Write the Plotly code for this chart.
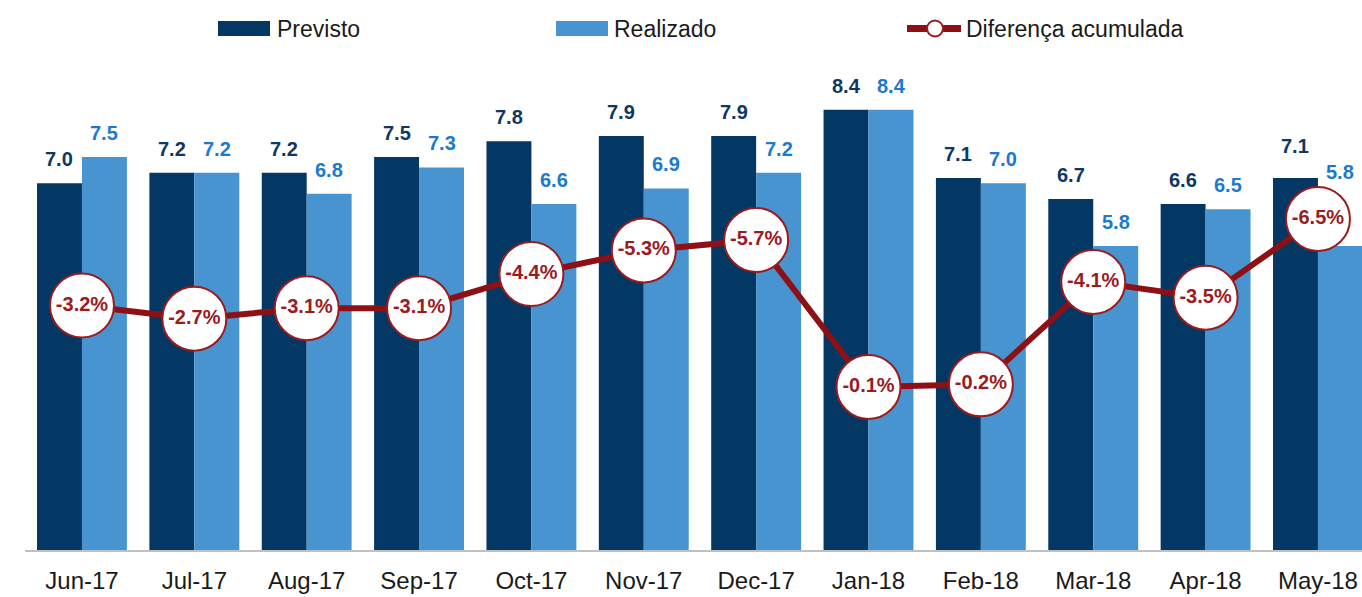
import plotly.graph_objects as go

categories = ["Jun-17", "Jul-17", "Aug-17", "Sep-17", "Oct-17", "Nov-17",
              "Dec-17", "Jan-18", "Feb-18", "Mar-18", "Apr-18", "May-18"]
previsto = [7.0, 7.2, 7.2, 7.5, 7.8, 7.9, 7.9, 8.4, 7.1, 6.7, 6.6, 7.1]
realizado = [7.5, 7.2, 6.8, 7.3, 6.6, 6.9, 7.2, 8.4, 7.0, 5.8, 6.5, 5.8]
diferenca = [-3.2, -2.7, -3.1, -3.1, -4.4, -5.3, -5.7, -0.1, -0.2, -4.1, -3.5, -6.5]

# label vertical offsets (px) - styling only
prev_shift = [24] * 11 + [32]
real_shift = [24] * 11 + [74]

DARK = "#033865"
LIGHT = "#4794d0"
RED = "#8e1015"
FONT = "Liberation Sans, Arial, sans-serif"

W, H = 1362, 597
ML, MR, MT, MB = 25, 0, 60, 47
PW, PH = W - ML - MR, H - MT - MB


def px(x):
    return (x - ML) / PW


def py(y):
    return (H - MB - y) / PH


fig = go.Figure()
fig.add_trace(go.Bar(x=categories, y=previsto, name="Previsto",
                     marker=dict(color=DARK, line=dict(width=0))))
fig.add_trace(go.Bar(x=categories, y=realizado, name="Realizado",
                     marker=dict(color=LIGHT, line=dict(width=0))))
fig.add_trace(go.Scatter(
    x=categories, y=diferenca, name="Diferença acumulada", yaxis="y2",
    mode="lines+markers+text",
    line=dict(color=RED, width=6),
    marker=dict(size=64, color="white", line=dict(color="#9b1b1e", width=2)),
    text=[f"{v:.1f}%" for v in diferenca],
    texttemplate="<b>%{text}</b>",
    textposition="middle center",
    textfont=dict(family=FONT, size=20, color="#9b1b1e"),
    cliponaxis=False,
))

annotations = []
for i, c in enumerate(categories):
    annotations.append(dict(x=c, y=previsto[i], xref="x", yref="y",
                            text=f"<b>{previsto[i]:.1f}</b>", showarrow=False,
                            xshift=-22.5, yshift=prev_shift[i], yanchor="middle",
                            font=dict(family=FONT, size=20, color="#0d3864")))
    annotations.append(dict(x=c, y=realizado[i], xref="x", yref="y",
                            text=f"<b>{realizado[i]:.1f}</b>", showarrow=False,
                            xshift=22.5, yshift=real_shift[i], yanchor="middle",
                            font=dict(family=FONT, size=20, color="#1b7ad0")))

# custom legend
leg_y = 28.5
shapes = [
    dict(type="rect", xref="paper", yref="paper", x0=px(218), x1=px(270),
         y0=py(36), y1=py(21), fillcolor=DARK, line=dict(width=0)),
    dict(type="rect", xref="paper", yref="paper", x0=px(556), x1=px(608),
         y0=py(36), y1=py(21), fillcolor=LIGHT, line=dict(width=0)),
    dict(type="line", xref="paper", yref="paper", x0=px(907), x1=px(961),
         y0=py(leg_y), y1=py(leg_y), line=dict(color=RED, width=7)),
    dict(type="circle", xref="paper", yref="paper", x0=px(927), x1=px(943),
         y0=py(leg_y + 8), y1=py(leg_y - 8), fillcolor="white",
         line=dict(color="#9b1b1e", width=2)),
]
for xx, label in [(275, "Previsto"), (612, "Realizado"), (964, "Diferença acumulada")]:
    annotations.append(dict(x=px(xx), y=py(leg_y), xref="paper", yref="paper",
                            text=label, showarrow=False, xanchor="left",
                            yanchor="middle",
                            font=dict(family=FONT, size=23, color="#1a1a1a")))

fig.update_layout(
    width=W, height=H,
    margin=dict(l=ML, r=MR, t=MT, b=MB),
    paper_bgcolor="white", plot_bgcolor="white",
    barmode="group", bargap=0.2, bargroupgap=0,
    showlegend=False,
    xaxis=dict(range=[-0.507, 11.392], showgrid=False, zeroline=False,
               showline=True, linecolor="#c0c0c0", linewidth=2, ticks="",
               tickfont=dict(family=FONT, size=24, color="#1a1a1a"),
               ticklabelstandoff=8),
    yaxis=dict(range=[0, 9.35], showgrid=False, zeroline=False,
               showticklabels=False, showline=False),
    yaxis2=dict(range=[6.109, -12.55], overlaying="y", side="right",
                showgrid=False, zeroline=False, showticklabels=False,
                showline=False),
    annotations=annotations,
    shapes=shapes,
)

fig.write_html("out.html",
               config={"displayModeBar": False},
               post_script="document.body.style.margin='0';"
                           "document.body.style.overflow='hidden';")
